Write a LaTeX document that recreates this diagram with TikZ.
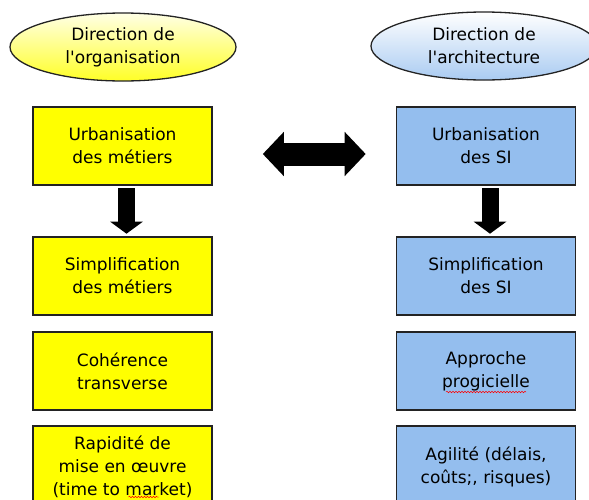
\documentclass[tikz,border=0pt]{standalone}
\usepackage{fontspec}
\setmainfont{DejaVu Sans}
\usetikzlibrary{arrows.meta}
\usetikzlibrary{shapes.geometric}
\usetikzlibrary{decorations.pathmorphing}

\definecolor{boxyellow}{RGB}{255,255,0}
\definecolor{boxblue}{RGB}{148,190,238}
\definecolor{edgegray}{RGB}{35,35,35}

\tikzset{
  orgbox/.style={draw=edgegray, line width=1.6pt, fill=boxyellow,
    minimum width=179pt, minimum height=78pt, align=center,
    font=\fontsize{17}{23}\selectfont},
  sibox/.style={orgbox, fill=boxblue},
  headorg/.style={ellipse, draw=edgegray, line width=1.3pt,
    top color=yellow!10, bottom color=yellow!85,
    minimum width=226pt, minimum height=68pt, align=center,
    font=\fontsize{17}{23}\selectfont},
  headarch/.style={headorg, top color=white, bottom color=boxblue!80},
  downarrow/.style={line width=17pt, -{Triangle[width=32pt,length=12pt]}},
  bigarrow/.style={line width=23pt,
    {Triangle[width=43pt,length=21pt]}-{Triangle[width=43pt,length=21pt]}},
  spellwave/.style={red, line width=0.5pt, decorate,
    decoration={snake, amplitude=0.8pt, segment length=3pt}}
}

\begin{document}
\begin{tikzpicture}[x=1pt, y=1pt]
  \useasboundingbox (0,0) rectangle (589,-499);

  % en-tetes
  \node[headorg] (dorg) at (123,-47) {Direction de\\l\textquotesingle organisation};
  \node[headarch] (darch) at (484,-46) {Direction de\\l\textquotesingle architecture};

  % colonne metiers
  \node[orgbox] (um) at (122.5,-146) {Urbanisation\\des métiers};
  \node[orgbox] (sm) at (122.5,-276) {Simplification\\des métiers};
  \node[orgbox] (ct) at (122.5,-371) {Cohérence\\transverse};
  \node[orgbox, minimum height=82pt] (rm) at (122.5,-467) {Rapidité de\\mise en œuvre\\(time to market)};

  % colonne SI
  \node[sibox] (us) at (486,-146) {Urbanisation\\des SI};
  \node[sibox] (ss) at (486,-276) {Simplification\\des SI};
  \node[sibox] (ap) at (486,-371) {Approche\\progicielle};
  \node[sibox, minimum height=82pt] (ag) at (486,-467) {Agilité (délais,\\coûts;, risques)};

  % fleches
  \draw[downarrow] ([xshift=4pt,yshift=-2.5pt]um.south) -- ([xshift=4pt,yshift=2.5pt]sm.north);
  \draw[downarrow] ([xshift=4pt,yshift=-2.5pt]us.south) -- ([xshift=4pt,yshift=2.5pt]ss.north);
  \draw[bigarrow] ([xshift=50pt,yshift=-8pt]um.east) -- ([xshift=-30pt,yshift=-8pt]us.west);

  % soulignements du correcteur
  \draw[spellwave] ([xshift=-40pt,yshift=-21pt]ap.center) -- ([xshift=40pt,yshift=-21pt]ap.center);
  \draw[spellwave] ([xshift=6pt,yshift=-30pt]rm.center) -- ([xshift=36pt,yshift=-30pt]rm.center);
\end{tikzpicture}
\end{document}
